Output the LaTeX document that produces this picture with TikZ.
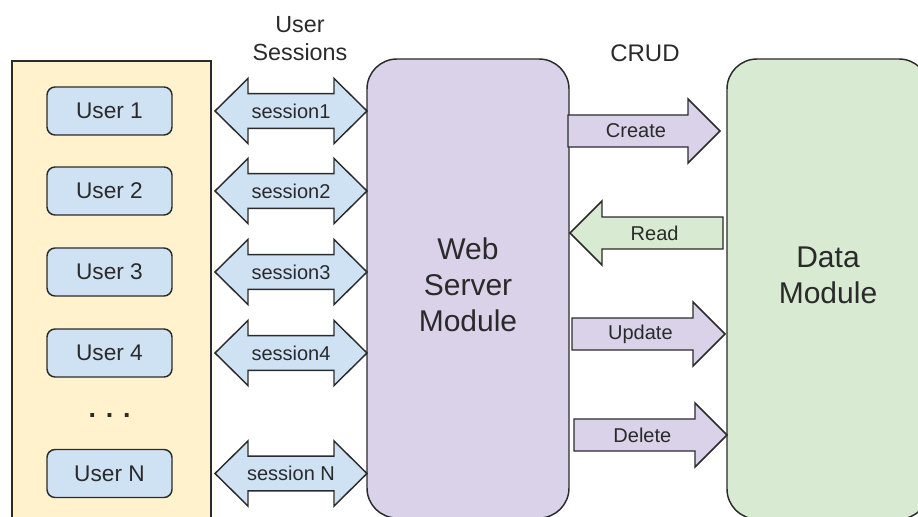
\documentclass[tikz,border=0pt]{standalone}
\usepackage{fontspec}
\setmainfont{Liberation Sans}
\usetikzlibrary{calc}

\definecolor{pane}{HTML}{FFF2CC}
\definecolor{userblue}{HTML}{CFE2F3}
\definecolor{webpurple}{HTML}{D9D2E9}
\definecolor{datagreen}{HTML}{D9EAD3}
\definecolor{edge}{HTML}{2B2B2B}
\definecolor{ink}{HTML}{2A2A2A}

% one-headed block arrow: tail, tip, label, fill, name
\newcommand{\blockarrowone}[5]{%
  \coordinate (#5-h) at ($(#2)!24pt!(#1)$);
  \draw[blk,fill=#4]
    ($(#1)!12pt!90:(#2)$) -- ($(#5-h)!12pt!90:(#2)$) -- ($(#5-h)!24pt!90:(#2)$)
    -- (#2)
    -- ($(#5-h)!24pt!-90:(#2)$) -- ($(#5-h)!12pt!-90:(#2)$) -- ($(#1)!12pt!-90:(#2)$)
    -- cycle;
  \node[arrowlbl] (#5) at ($(#1)!0.447!(#2)$) {#3};
}

% two-headed block arrow: left tip, right tip, label, fill, name
\newcommand{\blockarrowtwo}[5]{%
  \coordinate (#5-hl) at ($(#1)!24.75pt!(#2)$);
  \coordinate (#5-hr) at ($(#2)!24.75pt!(#1)$);
  \draw[blk,fill=#4]
    (#1) -- ($(#5-hl)!24.4pt!90:(#2)$) -- ($(#5-hl)!13.1pt!90:(#2)$)
    -- ($(#5-hr)!13.1pt!-90:(#1)$) -- ($(#5-hr)!24.4pt!-90:(#1)$)
    -- (#2)
    -- ($(#5-hr)!24.4pt!90:(#1)$) -- ($(#5-hr)!13.1pt!90:(#1)$)
    -- ($(#5-hl)!13.1pt!-90:(#2)$) -- ($(#5-hl)!24.4pt!-90:(#2)$)
    -- cycle;
  \node[arrowlbl] (#5) at ($(#1)!0.5!(#2)$) {#3};
}

\tikzset{
  blk/.style={draw=edge, line width=1.1pt, line join=miter},
  arrowlbl/.style={text=ink, font=\fontsize{15}{18}\selectfont, inner sep=0pt},
  userbox/.style={draw=edge, line width=1.1pt, fill=userblue, rounded corners=6pt,
    minimum width=93.75pt, minimum height=36pt, outer sep=0pt, text=ink,
    font=\fontsize{17}{20}\selectfont},
  module/.style={draw=edge, line width=1.1pt, rounded corners=22.5pt,
    minimum width=151.5pt, outer sep=0pt},
  bigtext/.style={text=ink, align=center, font=\fontsize{22.5}{27}\selectfont, inner sep=0pt},
  title/.style={text=ink, align=center, font=\fontsize{17.5}{21}\selectfont, inner sep=0pt}
}

\begin{document}
\begin{tikzpicture}[x=0.75pt, y=-0.75pt]
  \useasboundingbox (0,0) rectangle (918,517);
  \clip (0,0) rectangle (918,517);

  % user pane and the users in it
  \node[draw=edge, line width=1.1pt, fill=pane, minimum width=149.25pt,
        minimum height=363pt, outer sep=0pt] (pane) at (111.5,303) {};
  \node[userbox] (u1) at (109.5,111) {User 1};
  \node[userbox] (u2) at (109.5,191) {User 2};
  \node[userbox] (u3) at (109.5,272) {User 3};
  \node[userbox] (u4) at (109.5,353) {User 4};
  \node[text=ink, font=\bfseries\fontsize{20}{24}\selectfont, inner sep=0pt] (dots) at (109.5,416) {. . .};
  \node[userbox] (un) at (109.5,473.5) {User N};

  % the two modules
  \node[module, fill=webpurple, minimum height=344.25pt] (web) at (468,288.5) {};
  \node[bigtext] (weblbl) at (468,285) {Web\\Server\\Module};
  \node[module, fill=datagreen, minimum height=345pt] (data) at (828,289) {};
  \node[bigtext] (datalbl) at (828,275) {Data\\Module};

  % headings
  \node[title] (sess) at (300,39) {User\\Sessions};
  \node[title, font=\fontsize{18}{21}\selectfont] (crud) at (645,53) {CRUD};

  % sessions between users and the web server
  \foreach \u in {u1, u2, u3, u4, un}{
    \coordinate (\u-l) at ($(\u -| pane.east)+(4,0)$);
    \coordinate (\u-r) at (\u -| web.west);
  }
  \blockarrowtwo{u1-l}{u1-r}{session1}{userblue}{s1}
  \blockarrowtwo{u2-l}{u2-r}{session2}{userblue}{s2}
  \blockarrowtwo{u3-l}{u3-r}{session3}{userblue}{s3}
  \blockarrowtwo{u4-l}{u4-r}{session4}{userblue}{s4}
  \blockarrowtwo{un-l}{un-r}{session N}{userblue}{sn}

  % CRUD operations between the web server and the data module
  \coordinate (yc) at (0,131);
  \coordinate (yr) at (0,233);
  \coordinate (yu) at (0,334);
  \coordinate (yd) at (0,435);
  \coordinate (c-t) at ($(yc -| web.east)+(-1,0)$);
  \coordinate (c-p) at ($(yc -| data.west)+(-7,0)$);
  \coordinate (r-t) at ($(yr -| data.west)+(-4,0)$);
  \coordinate (r-p) at ($(yr -| web.east)+(1,0)$);
  \coordinate (u-t) at ($(yu -| web.east)+(3,0)$);
  \coordinate (u-p) at ($(yu -| data.west)+(-2,0)$);
  \coordinate (d-t) at ($(yd -| web.east)+(5,0)$);
  \coordinate (d-p) at (yd -| data.west);
  \blockarrowone{c-t}{c-p}{Create}{webpurple}{create}
  \blockarrowone{r-t}{r-p}{Read}{datagreen}{read}
  \blockarrowone{u-t}{u-p}{Update}{webpurple}{update}
  \blockarrowone{d-t}{d-p}{Delete}{webpurple}{delete}
\end{tikzpicture}
\end{document}
